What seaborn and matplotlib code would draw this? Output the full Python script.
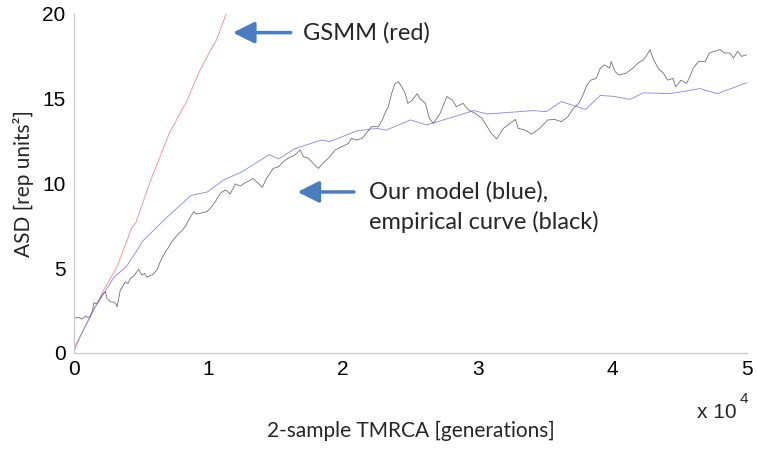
import numpy as np
import pandas as pd
import matplotlib
matplotlib.use('Agg')
import matplotlib.pyplot as plt
import seaborn as sns

# GSMM model (red)
gsmm_x = [0, 450, 1000, 2200, 3200, 4300, 4600, 5600, 7100, 8400, 9300, 9900, 10600, 11300]
gsmm_y = [0.1, 0.95, 1.8, 3.7, 5.1, 7.4, 7.7, 10.0, 13.0, 14.9, 16.6, 17.5, 18.5, 20.0]

# our model (blue)
model_x = [0, 70, 1400, 3000, 3900, 5150, 7100, 8700, 9900, 11100, 12500, 14500, 15200, 16400,
           18400, 19000, 21000, 22500, 23200, 25000, 26200, 29700, 30700, 34100, 35100, 36200,
           38000, 39100, 40200, 41300, 42300, 44300, 46500, 47800, 50000]
model_y = [0.1, 0.37, 2.5, 4.5, 5.1, 6.65, 8.15, 9.3, 9.5, 10.2, 10.7, 11.7, 11.45, 12.05,
           12.57, 12.47, 13.1, 13.25, 13.15, 13.75, 13.45, 14.3, 14.1, 14.3, 14.24, 14.83,
           14.37, 15.2, 15.13, 14.96, 15.35, 15.3, 15.6, 15.3, 15.95]

# empirical curve (black)
emp_x = [0, 350, 600, 840, 1000, 1210, 1390, 1460, 1650, 1830, 2080, 2330, 2450, 2700, 2900,
         3070, 3200, 3440, 3600, 3810, 4000, 4180, 4430, 4800, 5050, 5250, 5420, 5600, 5800,
         6170, 6410, 6790, 7000, 7280, 7500, 7780, 8000, 8270, 8520, 8890, 9100, 9380, 9600,
         9880, 10130, 10500, 10870, 11240, 11600, 11980, 12360, 12730, 13000, 13300, 13700,
         13990, 14300, 14800, 15200, 15550, 15900, 16400, 16800, 17040, 17400, 17900, 18150,
         18500, 19000, 19400, 19900, 20400, 20600, 21000, 21400, 21700, 22100, 22600, 22900,
         23100, 23350, 23600, 23850, 24100, 24350, 24600, 24800, 25100, 25500, 25700, 26100,
         26400, 26700, 27200, 27700, 28100, 28400, 28900, 29300, 29800, 30300, 30700, 31000,
         31400, 31900, 32400, 32800, 33000, 33500, 34000, 34600, 35200, 35700, 36200, 36700,
         37100, 37500, 37800, 38100, 38400, 38800, 39100, 39400, 39800, 39900, 40200, 40500,
         41000, 41500, 41900, 42300, 42500, 42800, 43000, 43400, 43800, 44100, 44500, 44700,
         45100, 45500, 45700, 46000, 46400, 46900, 47200, 47600, 48000, 48300, 48700, 49000,
         49300, 49600, 50000]
emp_y = [2.05, 2.1, 2.0, 2.18, 2.1, 2.14, 2.54, 2.97, 2.9, 3.03, 3.42, 3.62, 3.22, 3.03, 3.0,
         2.93, 2.73, 3.72, 3.9, 4.2, 4.1, 4.4, 4.54, 4.93, 4.6, 4.7, 4.46, 4.55, 4.6,
         4.9, 5.4, 5.99, 6.2, 6.59, 6.8, 7.06, 7.2, 7.46, 7.85, 8.34, 8.2, 8.24, 8.3,
         8.34, 8.54, 8.93, 9.42, 9.62, 9.38, 9.97, 9.85, 10.05, 10.15, 10.3, 10.0,
         9.77, 10.3, 10.89, 10.99, 11.29, 11.49, 11.68, 11.98, 11.58, 11.49, 11.09, 10.89,
         11.19, 11.58, 11.98, 12.17, 12.37, 12.66, 12.57, 12.66, 12.96, 13.35, 13.35, 13.75,
         14.14, 14.53, 15.32, 15.9, 16.0, 15.7, 15.32, 14.73, 14.9, 15.3, 15.0, 14.73,
         13.85, 13.55, 14.14, 15.13, 14.93, 14.53, 14.73, 14.34, 14.14, 13.85, 13.35, 12.96,
         12.63, 13.25, 13.55, 13.78, 13.25, 13.16, 12.92, 13.25, 13.75, 13.78, 13.65, 13.94,
         14.44, 14.73, 15.2, 15.8, 16.1, 16.2, 16.8, 17.0, 16.8, 17.2, 16.6, 16.4,
         16.5, 16.8, 17.1, 17.3, 17.5, 17.9, 17.4, 16.8, 16.5, 16.1, 16.2, 15.7,
         16.1, 15.9, 16.2, 16.8, 17.2, 17.2, 17.7, 17.8, 17.9, 17.7, 17.7, 17.4,
         17.8, 17.5, 17.6]

xticks = [0, 10000, 20000, 30000, 40000, 50000]
xticklabels = ['0', '1', '2', '3', '4', '5']
yticks = [0, 5, 10, 15, 20]

sns.set_style('white')
plt.rcParams['font.family'] = ['Lato', 'DejaVu Sans']

fig = plt.figure(figsize=(7.57, 4.5), dpi=100)
ax = fig.add_axes([0.0978, 0.2156, 0.889, 0.7533])

sns.lineplot(x=gsmm_x, y=gsmm_y, ax=ax, color='#f28a8a', lw=0.6, sort=False, estimator=None)
sns.lineplot(x=model_x, y=model_y, ax=ax, color='#8484f2', lw=0.6, sort=False, estimator=None)
sns.lineplot(x=emp_x, y=emp_y, ax=ax, color='#707070', lw=0.6, sort=False, estimator=None)

ax.set_xlim(0, 50000)
ax.set_ylim(0, 20)
ax.set_xticks(xticks)
ax.set_xticklabels(xticklabels)
ax.set_yticks(yticks)

tick_font = ['Liberation Sans Narrow', 'Liberation Sans', 'DejaVu Sans']
for lab in ax.get_xticklabels() + ax.get_yticklabels():
    lab.set_family(tick_font)
    lab.set_fontsize(15)

ax.tick_params(direction='in', length=5, width=0.8, color='#c8c8c8', labelcolor='black')
ax.tick_params(axis='x', pad=5)
ax.tick_params(axis='y', pad=6)
for s in ['top', 'right']:
    ax.spines[s].set_visible(False)
for s in ['left', 'bottom']:
    ax.spines[s].set_color('#c8c8c8')
    ax.spines[s].set_linewidth(0.9)

ax.set_xlabel('2-sample TMRCA [generations]', fontsize=15, labelpad=30)
ax.set_ylabel('ASD [rep units\u00b2]', fontsize=15, labelpad=6)

ax.text(0.985, -0.175, 'x 10', transform=ax.transAxes, ha='right', va='center',
        fontsize=15, family=tick_font)
ax.text(0.989, -0.135, '4', transform=ax.transAxes, ha='left', va='center',
        fontsize=11, family=tick_font)

arrow_blue = '#4a7cc0'
astyle = '-|>,head_length=1.3,head_width=0.65'
ax.annotate('', xy=(11600, 18.9), xytext=(16300, 18.9),
            arrowprops=dict(arrowstyle=astyle, color=arrow_blue, lw=2.5))
ax.text(17000, 18.9, 'GSMM (red)', fontsize=17, va='center', ha='left')

ax.annotate('', xy=(16400, 9.5), xytext=(21000, 9.5),
            arrowprops=dict(arrowstyle=astyle, color=arrow_blue, lw=2.5))
ax.text(21900, 9.5, 'Our model (blue),', fontsize=17, va='center', ha='left')
ax.text(21900, 7.75, 'empirical curve (black)', fontsize=17, va='center', ha='left')

fig.savefig('out.png', dpi=100)
